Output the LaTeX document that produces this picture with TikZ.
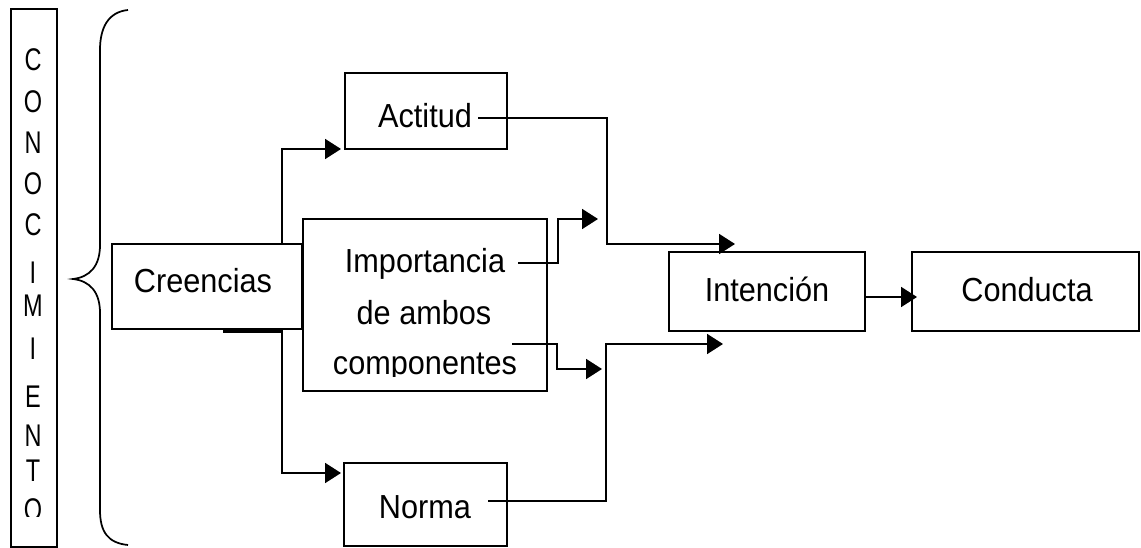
\documentclass[tikz,border=0pt]{standalone}
\usepackage{fontspec}
\setmainfont{Liberation Sans}[FakeStretch=0.92]
\newfontfamily\narrowfont{Liberation Sans}[FakeStretch=0.75]
\usetikzlibrary{arrows.meta,fit}
\begin{document}
\begin{tikzpicture}[x=0.75pt,y=-0.75pt,
  box/.style={draw, line width=1.7pt, rectangle, inner sep=0pt},
  conn/.style={line width=1.4pt},
  arr/.style={conn, -{Triangle[length=12pt,width=15pt]}},
  lbl/.style={font=\fontsize{25}{30}\selectfont, inner sep=0pt},
  vlet/.style={font=\narrowfont\fontsize{23.5}{28}\selectfont, inner sep=0pt}]
\useasboundingbox (0,0) rectangle (1141,548);
\fill[white] (0,0) rectangle (1141,548);

% boxes
\node[box, fit={(11,9) (57,547)}] (con) {};
\node[box, fit={(112,244) (302,329)}] (cre) {};
\node[box, fit={(345,73) (507,149)}] (act) {};
\node[box, fit={(303,219) (547,391)}] (imp) {};
\node[box, fit={(344,463) (507,546)}] (nor) {};
\node[box, fit={(669,252) (865,331)}] (int) {};
\node[box, fit={(912,252) (1139,331)}] (cond) {};

% vertical word
\node[vlet] (l1) at (33,60) {C};
\node[vlet] (l2) at (33,102) {O};
\node[vlet] (l3) at (33,143) {N};
\node[vlet] (l4) at (33,184) {O};
\node[vlet] (l5) at (33,225) {C};
\node[vlet] (l6) at (33,273) {I};
\node[vlet] (l7) at (33,306) {M};
\node[vlet] (l8) at (33,349) {I};
\node[vlet] (l9) at (33,397) {E};
\node[vlet] (l10) at (33,436) {N};
\node[vlet] (l11) at (33,471) {T};
\begin{scope}
\clip (12,480) rectangle (56,516);
\node[vlet] (l12) at (33,510) {O};
\end{scope}

% brace
\draw[line width=1.3pt] (128,10) .. controls (108,12) and (100,28) .. (100,50)
  -- (100,245) .. controls (100,266) and (90,277) .. (73,279)
  .. controls (90,281) and (100,292) .. (100,313)
  -- (100,510) .. controls (100,532) and (108,543) .. (128,545);

% texts
\node[lbl, anchor=base] (creT) at (203,293) {Creencias};
\node[lbl, anchor=base] (actT) at (425,128) {Actitud};
\node[lbl, anchor=base] (imp1) at (425,273) {Importancia};
\node[lbl, anchor=base] (imp2) at (424,325) {de ambos};
\begin{scope}
\clip (304,340) rectangle (546,377);
\node[lbl, anchor=base] (imp3) at (425,375) {componentes};
\end{scope}
\node[lbl, anchor=base] (norT) at (425,518) {Norma};
\node[lbl, anchor=base] (intT) at (767,302) {Intención};
\node[lbl, anchor=base] (conT) at (1027,302) {Conducta};

% thick stub under Creencias
\draw[line width=3pt] (223,331) -- (283,331);

% coordinates
\coordinate (sp) at (282,0);
\coordinate (taA) at (341,149);
\coordinate (taN) at (341,473);
\coordinate (a1) at (478,118);
\coordinate (m1) at (607,244);
\coordinate (t1) at (735,244);
\coordinate (i1) at (518,263);
\coordinate (m2) at (558,219);
\coordinate (t2) at (598,219);
\coordinate (i2) at (512,344);
\coordinate (m3) at (557,369);
\coordinate (t3) at (602,369);
\coordinate (n1) at (488,501);
\coordinate (m4) at (606,344);
\coordinate (t4) at (723,344);
\coordinate (ic) at (0,297);
\coordinate (t5) at (917,297);

% connectors
\draw[arr] (cre.north -| sp) |- (taA);
\draw[arr] (cre.south -| sp) |- (taN);
\draw[arr] (a1) -| (m1) -- (t1);
\draw[arr] (i1) -| (m2) -- (t2);
\draw[arr] (i2) -| (m3) -- (t3);
\draw[arr] (n1) -| (m4) -- (t4);
\draw[arr] (int.east |- ic) -- (t5);
\end{tikzpicture}
\end{document}
